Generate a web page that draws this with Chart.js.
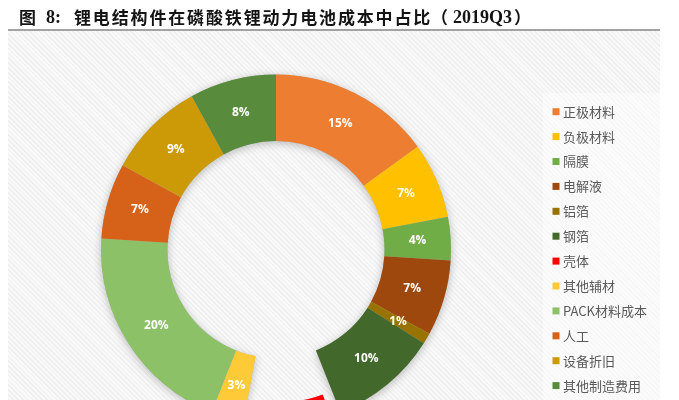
<!DOCTYPE html>
<html><head><meta charset="utf-8">
<script src="https://cdn.jsdelivr.net/npm/chart.js@4/dist/chart.umd.min.js"></script>
<style>
html,body{margin:0;padding:0;width:679px;height:400px;overflow:hidden;background:#fff;}
#panel{position:absolute;left:8px;top:31px;width:652px;height:369px;
  background:repeating-linear-gradient(45deg,#efefef 0px,#efefef 1.2px,#f8f8f8 1.2px,#f8f8f8 3.4px);}
#legbg{position:absolute;left:543px;top:93px;width:118px;height:307px;background:rgba(255,255,255,0.45);}
#rule{position:absolute;left:8px;top:29px;width:652px;height:1.5px;background:#a3a3a3;}
#wrap{position:absolute;left:0;top:0;width:679px;height:500px;}
.t{position:absolute;white-space:nowrap;color:#141414;font-weight:bold;line-height:17px;}
.cjk{font-family:"Noto Sans CJK SC";font-size:17px;top:7.5px;}
.lat{font-family:"Liberation Serif";font-size:18px;top:9.4px;}
</style></head>
<body>
<div id="panel"></div>
<div id="legbg"></div>
<div id="rule"></div>
<div id="wrap"><canvas id="c" width="679" height="500"></canvas></div>
<div class="t cjk" style="left:19px">图</div>
<div class="t lat" style="left:46px">8:</div>
<div class="t cjk" style="left:74px;letter-spacing:1.85px">锂电结构件在磷酸铁锂动力电池成本中占比</div>
<div class="t cjk" style="left:431px">（</div>
<div class="t lat" style="left:453px">2019Q3</div>
<div class="t cjk" style="left:514px">）</div>
<script>
const categories = ['正极材料','负极材料','隔膜','电解液','铝箔','钢箔','壳体','其他辅材','PACK材料成本','人工','设备折旧','其他制造费用'];
const shares = [15, 7, 4, 7, 1, 10, 9, 3, 20, 7, 9, 8];
const colors = ['#ED7D31','#FFC000','#70AD47','#9E480E','#997300','#43682B','#FF0000','#FFCA38','#8CC168','#D6621A','#CC9A06','#588B3C'];
const explodedCategory = '壳体';

const shadowPlugin = {
  id: 'ringShadow',
  beforeDatasetsDraw(chart) {
    const meta = chart.getDatasetMeta(0);
    const ctx = chart.ctx;
    ctx.save();
    ctx.shadowColor = 'rgba(0,0,0,0.25)';
    ctx.shadowBlur = 9;
    ctx.shadowOffsetY = 2;
    ctx.fillStyle = '#bbbbbb';
    ctx.beginPath();
    meta.data.forEach((arc, i) => {
      if (categories[i] === explodedCategory) return;
      const p = arc.getProps(['x','y','startAngle','endAngle','innerRadius','outerRadius']);
      ctx.moveTo(p.x + Math.cos(p.startAngle) * p.outerRadius, p.y + Math.sin(p.startAngle) * p.outerRadius);
      ctx.arc(p.x, p.y, p.outerRadius, p.startAngle, p.endAngle);
      ctx.arc(p.x, p.y, p.innerRadius, p.endAngle, p.startAngle, true);
      ctx.closePath();
    });
    ctx.fill();
    ctx.restore();
  }
};

const labelPlugin = {
  id: 'sliceLabels',
  afterDatasetsDraw(chart) {
    const meta = chart.getDatasetMeta(0);
    const ctx = chart.ctx;
    ctx.save();
    ctx.font = 'bold 12px "Open Sans"';
    ctx.fillStyle = '#ffffff';
    ctx.textAlign = 'center';
    ctx.textBaseline = 'middle';
    meta.data.forEach((arc, i) => {
      const p = arc.tooltipPosition();
      ctx.fillText(chart.data.datasets[0].data[i] + '%', p.x, p.y);
    });
    ctx.restore();
  }
};

const legendPlugin = {
  id: 'sideLegend',
  afterDraw(chart) {
    const ctx = chart.ctx;
    const ds = chart.data.datasets[0];
    ctx.save();
    ctx.font = '13px "Noto Sans CJK SC"';
    ctx.textBaseline = 'middle';
    ctx.textAlign = 'left';
    chart.data.labels.forEach((lab, i) => {
      const y = 111.7 + i * 24.9;
      ctx.fillStyle = ds.backgroundColor[i];
      ctx.fillRect(552.5, y - 3.5, 7, 7);
      ctx.fillStyle = '#595959';
      ctx.fillText(lab, 563, y);
    });
    ctx.restore();
  }
};

new Chart(document.getElementById('c'), {
  type: 'doughnut',
  data: {
    labels: categories,
    datasets: [{
      data: shares,
      backgroundColor: colors,
      borderWidth: 0,
      offset: (c) => categories[c.dataIndex] === explodedCategory ? 122 : 0
    }]
  },
  options: {
    responsive: false,
    animation: false,
    events: [],
    radius: 175,
    cutout: '62%',
    rotation: 0,
    layout: { padding: { left: 0, right: 127, top: 0, bottom: 1 } },
    plugins: { legend: { display: false }, tooltip: { enabled: false }, title: { display: false } }
  },
  plugins: [shadowPlugin, labelPlugin, legendPlugin]
});
</script>
</body></html>
